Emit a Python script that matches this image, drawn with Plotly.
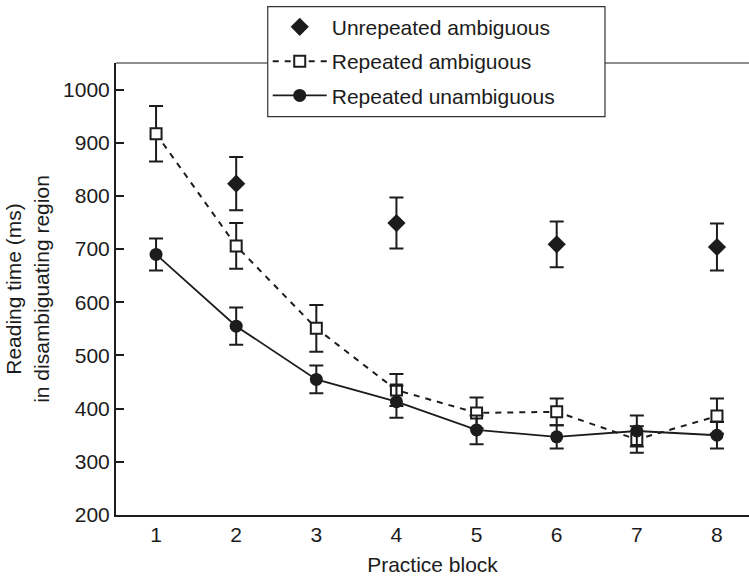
import plotly.graph_objects as go

blocks = [1, 2, 3, 4, 5, 6, 7, 8]
unrep_blocks = [2, 4, 6, 8]
unrep_amb = [823, 749, 709, 704]
unrep_amb_err = [50, 48, 43, 44]
rep_amb = [917, 706, 551, 435, 392, 394, 342, 386]
rep_amb_err = [52, 43, 44, 30, 29, 25, 25, 33]
rep_unamb = [690, 555, 455, 413, 360, 347, 358, 350]
rep_unamb_err = [30, 35, 26, 30, 27, 22, 29, 25]
y_ticks = [200, 300, 400, 500, 600, 700, 800, 900, 1000]

INK = "#1c1c1c"
FONT = "Liberation Sans, Arial, Helvetica, sans-serif"
FS = 21

fig = go.Figure()
fig.add_trace(go.Scatter(
    x=unrep_blocks, y=unrep_amb, mode="markers", name="Unrepeated ambiguous",
    legendgroup="a",
    marker=dict(symbol="diamond", size=14, color=INK),
    error_y=dict(type="data", array=unrep_amb_err, color=INK, thickness=2, width=7),
))
fig.add_trace(go.Scatter(
    x=blocks, y=rep_amb, mode="lines+markers", name="Repeated ambiguous",
    legendgroup="b",
    line=dict(color=INK, width=2, dash="6px,6px"),
    marker=dict(symbol="square", size=11, color="white", line=dict(color=INK, width=2)),
    error_y=dict(type="data", array=rep_amb_err, color=INK, thickness=2, width=7),
))
fig.add_trace(go.Scatter(
    x=blocks, y=rep_unamb, mode="lines+markers", name="Repeated unambiguous",
    legendgroup="c",
    line=dict(color=INK, width=1.8),
    marker=dict(symbol="circle", size=13, color=INK),
    error_y=dict(type="data", array=rep_unamb_err, color=INK, thickness=2, width=7),
))

# top frame line of the plot area
fig.add_shape(type="line", xref="paper", yref="paper", x0=0, x1=1, y0=1, y1=1,
              line=dict(color=INK, width=1.2))
# legend box (drawn as a shape so it can be wider than the entries)
fig.add_shape(type="rect", xref="paper", yref="paper",
              x0=0.2397, x1=0.7725, y0=0.8812, y1=1.1246,
              fillcolor="white", line=dict(color="#333", width=1.2), layer="above")

fig.update_layout(
    width=749, height=577,
    margin=dict(l=116, r=0, t=63, b=62),
    paper_bgcolor="white", plot_bgcolor="white",
    font=dict(family=FONT, size=FS, color=INK),
    showlegend=True,
    legend=dict(
        x=0.2397, y=1.1246, xanchor="left", yanchor="top",
        bgcolor="rgba(0,0,0,0)", borderwidth=0,
        font=dict(size=FS, color=INK), traceorder="grouped", tracegroupgap=4,
        itemwidth=54,
    ),
    xaxis=dict(
        range=[0.5, 8.4], tickvals=blocks, ticktext=[str(b) for b in blocks],
        showline=True, linecolor=INK, linewidth=2, ticks="", showgrid=False,
        zeroline=False, tickfont=dict(size=FS),
        title=dict(text="Practice block", font=dict(size=FS), standoff=12),
    ),
    yaxis=dict(
        range=[200, 1050], tickvals=y_ticks,
        showline=True, linecolor=INK, linewidth=2, ticks="inside", ticklen=8,
        tickwidth=1.5, tickcolor=INK, showgrid=False, zeroline=False,
        tickfont=dict(size=FS),
        title=dict(text="Reading time (ms)<br>in disambiguating region",
                   font=dict(size=FS), standoff=8),
    ),
)

fig.write_html("out.html")
